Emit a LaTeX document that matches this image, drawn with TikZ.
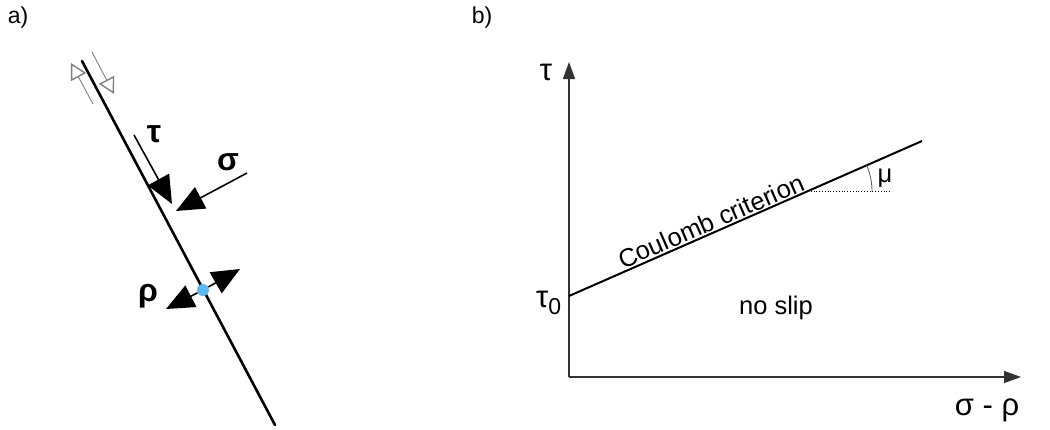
\documentclass[tikz,border=0pt]{standalone}
\usepackage{fontspec}
\setmainfont{Liberation Sans}
\usetikzlibrary{arrows.meta}
\definecolor{dotblue}{HTML}{5DB8F2}
\definecolor{axisgray}{HTML}{333333}
\begin{document}
\begin{tikzpicture}[x=1pt,y=-1pt,
  txt/.style={inner sep=0pt, font=\fontsize{23}{26}\selectfont},
  midtxt/.style={inner sep=0pt, font=\fontsize{25.5}{28}\selectfont},
  axtxt/.style={inner sep=0pt, font=\fontsize{31}{34}\selectfont},
  greekbig/.style={inner sep=0pt, font=\fontsize{32}{34}\selectfont\bfseries},
  fault/.style={line width=2.6pt, line cap=round},
  openarr/.style={gray, line width=0.9pt, -{Triangle[open, length=16pt, width=17pt, line width=1.4pt]}},
  bigarr/.style={line width=1.6pt, -{Triangle[length=28pt, width=24pt]}},
  axisarr/.style={axisgray, line width=1.3pt, -{Triangle[length=17pt, width=12pt]}},
  crit/.style={line width=2pt},
  dotline/.style={line width=0.8pt, dotted},
  anglearc/.style={gray!80!black, line width=0.9pt}
]
\useasboundingbox (0,0) rectangle (1050,429);

% ---------- panel a ----------
\node[txt] (la) at (18,18) {a)};
\coordinate (f1) at (82,61);
\coordinate (f2) at (275,425);
\draw[fault] (f1) -- (f2);

\coordinate (s1a) at (93,104);
\coordinate (s1b) at (71,63);
\draw[openarr] (s1a) -- (s1b);
\coordinate (s2a) at (92,52);
\coordinate (s2b) at (114,94);
\draw[openarr] (s2a) -- (s2b);

\coordinate (t1) at (134,135);
\coordinate (t2) at (172,204);
\draw[bigarr] (t1) -- (t2);
\node[greekbig] (tau) at (154,134) {τ};

\coordinate (g1) at (247,173);
\coordinate (g2) at (176,211);
\draw[bigarr] (g1) -- (g2);
\node[greekbig] (sigma) at (228,162) {σ};

\node[circle, fill=dotblue, inner sep=0pt, minimum size=12pt] (dot) at (203,290) {};
\coordinate (r1) at (240,269);
\coordinate (r2) at (166,309);
\draw[bigarr] (dot) -- (r1);
\draw[bigarr] (dot) -- (r2);
\node[greekbig] (rho) at (148,296) {ρ};

% ---------- panel b ----------
\node[txt] (lb) at (482,18) {b)};
\coordinate (o) at (569,377);
\coordinate (ytop) at (569,62);
\coordinate (xend) at (1021,377);
\draw[axisarr] (o) -- (ytop);
\draw[axisarr] (o) -- (xend);

\coordinate (c0) at (569,296);
\coordinate (c1) at (922,141);
\draw[crit] (c0) -- (c1);

\coordinate (ci) at (808,191);
\coordinate (d1) at (892,191);
\draw[dotline] (ci) -- (d1);
\draw[anglearc] ([xshift=64pt]ci) arc[start angle=0, end angle=23.7, radius=64pt];
\node[midtxt] (mu) at (885,178) {μ};

\node[axtxt] (tauax) at (546,72) {τ};
\node[axtxt, anchor=base west] (tau0) at (536,307) {τ\raisebox{-7pt}{\fontsize{23}{24}\selectfont 0}};
\node[axtxt] (sr) at (987,410) {σ - ρ};
\node[midtxt] (noslip) at (776,308) {no slip};
\node[midtxt, rotate=23.6] (coul) at (711,221) {Coulomb criterion};
\end{tikzpicture}
\end{document}
